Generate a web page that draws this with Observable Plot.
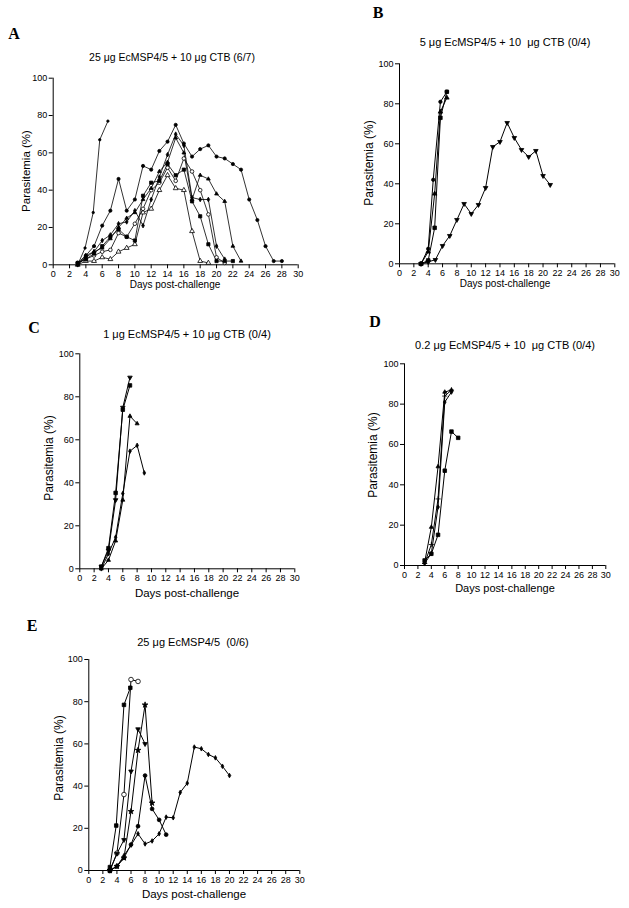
<!DOCTYPE html>
<html><head><meta charset="utf-8">
<script src="https://cdn.jsdelivr.net/npm/d3@7"></script>
<script src="https://cdn.jsdelivr.net/npm/@observablehq/plot@0.6"></script>
<style>
body{margin:0;background:#fff;}
#root{position:relative;width:629px;height:908px;overflow:hidden;font-family:"Liberation Sans",Arial,sans-serif;color:#000;background:#fff;}
.t{position:absolute;white-space:pre;transform:translate(-50%,-50%);line-height:1;}
.letter{font-family:"Liberation Serif","Times New Roman",serif;font-weight:bold;font-size:16px;}
.ylab{transform:translate(-50%,-50%) rotate(-90deg);}
.panel{position:absolute;}
</style></head><body><div id="root"></div>
<script>
// ---------- data: [day, parasitemia %] ----------
// Panel A: 25 µg EcMSP4/5 + 10 µg CTB
const A1 = [[3,0],[3.9,9],[4.9,28],[5.7,67],[6.7,77]];
const A2 = [[3,0],[4,2],[5,2],[6,4],[7,3],[8,7],[9,9],[10,11],[11,28],[12,30],[13,40],[14,48],[15,41],[16,40],[17,18],[18,2],[19,1]];
const A3 = [[3,1],[4,3],[5,5],[6,7],[7,8],[8,17],[9,15],[10,22],[11,30],[12,40],[13,44],[14,52],[15,45],[16,57],[17,50],[18,40],[19,27],[20,4],[21,1]];
const A4 = [[3,1],[4,3],[5,6],[6,10],[7,15],[8,19],[9,15],[10,13],[11,37],[12,44],[13,45],[14,54],[15,48],[16,51],[17,34],[18,26],[19,11],[20,2],[21,2],[22,2]];
const A5 = [[3,0],[4,4],[5,7],[6,13],[7,16],[8,22],[9,23],[10,29],[11,21],[12,35],[13,47],[14,59],[15,70],[16,64],[17,36],[18,35],[19,35],[20,10],[21,3]];
const A6 = [[3,0],[4,5],[5,7],[6,9],[7,14],[8,20],[9,25],[10,28],[11,35],[12,41],[13,50],[14,55],[15,68],[16,60],[17,35],[18,48],[19,46],[20,38],[21,34],[22,10],[23,2]];
const A7 = [[3,1],[4,5],[5,10],[6,21],[7,29],[8,46],[9,29],[10,35],[11,53],[12,51],[13,61],[14,66],[15,75],[16,65],[17,58],[18,62],[19,64],[20,58],[21,57],[22,54],[23,51],[24,35],[25,24],[26,10],[27,2],[28,2]];
// Panel B: 5 µg EcMSP4/5 + 10 µg CTB
const B1 = [[3,0],[4,7.5],[4.7,42],[5.7,81],[6.6,86]];
const B2 = [[3,0],[4,1.7],[4.9,18],[5.7,73],[6.6,86]];
const B3 = [[3,0],[4,6],[4.9,35],[5.7,76],[6.6,83]];
const B4 = [[3,0],[4,1],[5,2],[6,9],[7,14],[8,22],[9,30],[10,25],[11,29.5],[12,38],[13,58.5],[14,61],[15,70.5],[16,63],[17,57],[18,53.5],[19,56.5],[20,44],[21,39.5]];
// Panel C: 1 µg EcMSP4/5 + 10 µg CTB
const C1 = [[3,1],[4,8.5],[5,32],[6,75],[7,89]];
const C2 = [[3,1],[4,9.6],[5,35.3],[6,74],[7,85.3]];
const C3 = [[3,0],[4,4],[5,13],[6,32],[7,71],[8,67.5]];
const C4 = [[3,0],[4,7],[5,14.7],[6,35],[7,54.7],[8,57.4],[9,44.6]];
// Panel D: 0.2 µg EcMSP4/5 + 10 µg CTB
const D1 = [[3,1.6],[4,19],[5,49],[6,86],[7,87]];
const D2 = [[3,1],[4,10.4],[5,33],[6,84],[7,87]];
const D3 = [[3,1],[4,6],[5,29],[6,81],[7,86]];
const D4 = [[3,2.5],[4,5.8],[5,15.2],[6,47],[7,66.4],[8,63.3]];
// Panel E: 25 µg EcMSP4/5 alone
const E1 = [[3,1.6],[3.9,21.3],[5,78.5],[5.9,86.6]];
const E2 = [[3,0],[4,8.2],[5,36],[6,90.5],[7,89.6]];
const E3 = [[3,0],[4,8],[5,14.5],[6,47],[7,67],[8,60]];
const E4 = [[3,0],[4,2],[5,6],[6,28],[7,57],[8,78.5],[9,32]];
const E5 = [[3,0],[4,2],[5,6],[6,12.3],[7,21],[8,45],[9,29.2],[10,24],[11,17]];
const E6 = [[3,0],[4,2],[5,7],[6,12],[7,17.4],[8,12.6],[9,14],[10,17.4],[11,25.3],[12,25],[13,37],[14,41.4],[15,58.5],[16,57.7],[17,55],[18,53.4],[19,49.4],[20,45]];

const xTicks = [0,2,4,6,8,10,12,14,16,18,20,22,24,26,28,30];
const yTicks = [0,20,40,60,80,100];
const titleA = "25 μg EcMSP4/5 + 10 μg CTB (6/7)";
const titleB = "5 μg EcMSP4/5 + 10  μg CTB (0/4)";
const titleC = "1 μg EcMSP4/5 + 10 μg CTB (0/4)";
const titleD = "0.2 μg EcMSP4/5 + 10  μg CTB (0/4)";
const titleE = "25 μg EcMSP4/5  (0/6)";
const yLabel = "Parasitemia (%)";
const xLabel = "Days post-challenge";

// ---------- marker styles: [symbol, fill, rotate, r] ----------
const styles = {
  A1:["circle","black",0,1.2], A2:["triangle","white",0,1.8], A3:["circle","white",0,1.8], A4:["square","black",0,1.8],
  A5:["diamond","black",0,1.4], A6:["triangle","black",0,1.4], A7:["circle","black",0,1.6],
  B1:["circle","black",0,1.7], B2:["square","black",0,2], B3:["triangle","black",0,1.7], B4:["triangle","black",180,1.7],
  C1:["triangle","black",180,1.7], C2:["square","black",0,2], C3:["triangle","black",0,1.5], C4:["diamond","black",0,1.4],
  D1:["triangle","black",0,1.5], D2:["plus","black",0,1.8], D3:["diamond","black",0,1.4], D4:["square","black",0,2],
  E1:["square","black",0,2], E2:["circle","white",0,2.3], E3:["triangle","black",180,1.7], E4:["star","black",0,1.8],
  E5:["circle","black",0,1.9], E6:["diamond","black",0,1.4]
};

const panels = [
  {key:"A", curves:{A1,A2,A3,A4,A5,A6,A7}, title:titleA, lw:0.8,
   svg:{left:0, top:62, width:315, height:238, mL:52.7, mR:17.3, mT:15.7, mB:35.7},
   letter:[14,34], titlePos:[172,57], ylab:[27,171], xlab:[175,285], fs:10.5, xfs:10},
  {key:"B", curves:{B1,B2,B3,B4}, title:titleB, lw:1,
   svg:{left:340, top:48, width:289, height:252, mL:59, mR:14.7, mT:15.3, mB:36.7},
   letter:[378,13], titlePos:[505,42], ylab:[369,163], xlab:[505,284], fs:11, xfs:10},
  {key:"C", curves:{C1,C2,C3,C4}, title:titleC, lw:1,
   svg:{left:0, top:338, width:315, height:270, mL:79.3, mR:20.7, mT:15.3, mB:39.7},
   letter:[34,328], titlePos:[187,334], ylab:[49,458], xlab:[187,594], fs:11, xfs:11.5},
  {key:"D", curves:{D1,D2,D3,D4}, title:titleD, lw:1,
   svg:{left:340, top:348, width:289, height:255, mL:64, mR:23.7, mT:15.3, mB:38},
   letter:[375,322], titlePos:[505,345], ylab:[373,455], xlab:[505,588], fs:11, xfs:11},
  {key:"E", curves:{E1,E2,E3,E4,E5,E6}, title:titleE, lw:1,
   svg:{left:0, top:644, width:315, height:264, mL:88.3, mR:15.7, mT:15, mB:38},
   letter:[32,626], titlePos:[193,642], ylab:[59,758], xlab:[194,895], fs:11, xfs:11.5}
];

const root = document.getElementById("root");
function addText(txt, x, y, cls, fs){
  const d = document.createElement("div");
  d.className = "t " + (cls||"");
  d.textContent = txt;
  d.style.left = x + "px"; d.style.top = y + "px";
  if (fs) d.style.fontSize = fs + "px";
  root.appendChild(d);
}

for (const p of panels) {
  const rows = [];
  for (const [id, pts] of Object.entries(p.curves)) {
    const [sym, fill, rot, r] = styles[id];
    for (const [d, v] of pts) rows.push({id, day:d, val:v, sym, fill, rot, r});
  }
  const s = p.svg;
  const chart = Plot.plot({
    width: s.width, height: s.height,
    marginLeft: s.mL, marginRight: s.mR, marginTop: s.mT, marginBottom: s.mB,
    x: {domain:[0,30]}, y: {domain:[0,100]},
    r: {type:"identity"},
    style: {fontSize:"9px", fontFamily:"'Liberation Sans', Arial, sans-serif", background:"transparent", color:"#000", overflow:"visible"},
    marks: [
      Plot.ruleX([0], {stroke:"#000", strokeWidth:1}),
      Plot.ruleY([0], {stroke:"#000", strokeWidth:1}),
      Plot.axisX({ticks:xTicks, tickSize:4, tickPadding:2, label:null, stroke:"#000"}),
      Plot.axisY({ticks:yTicks, tickSize:4, tickPadding:2, label:null, stroke:"#000"}),
      Plot.line(rows, {x:"day", y:"val", z:"id", stroke:"#000", strokeWidth:p.lw}),
      Plot.dot(rows, {x:"day", y:"val", symbol:"sym", fill:"fill", rotate:"rot", r:"r", stroke:"#000", strokeWidth:0.8})
    ]
  });
  const holder = document.createElement("div");
  holder.className = "panel";
  holder.style.left = s.left + "px"; holder.style.top = s.top + "px";
  holder.appendChild(chart);
  root.appendChild(holder);
  addText(p.key, p.letter[0], p.letter[1], "letter");
  addText(p.title, p.titlePos[0], p.titlePos[1], "", p.fs);
  addText(yLabel, p.ylab[0], p.ylab[1], "ylab", p.fs + 1);
  addText(xLabel, p.xlab[0], p.xlab[1], "", p.xfs);
}
</script></body></html>
